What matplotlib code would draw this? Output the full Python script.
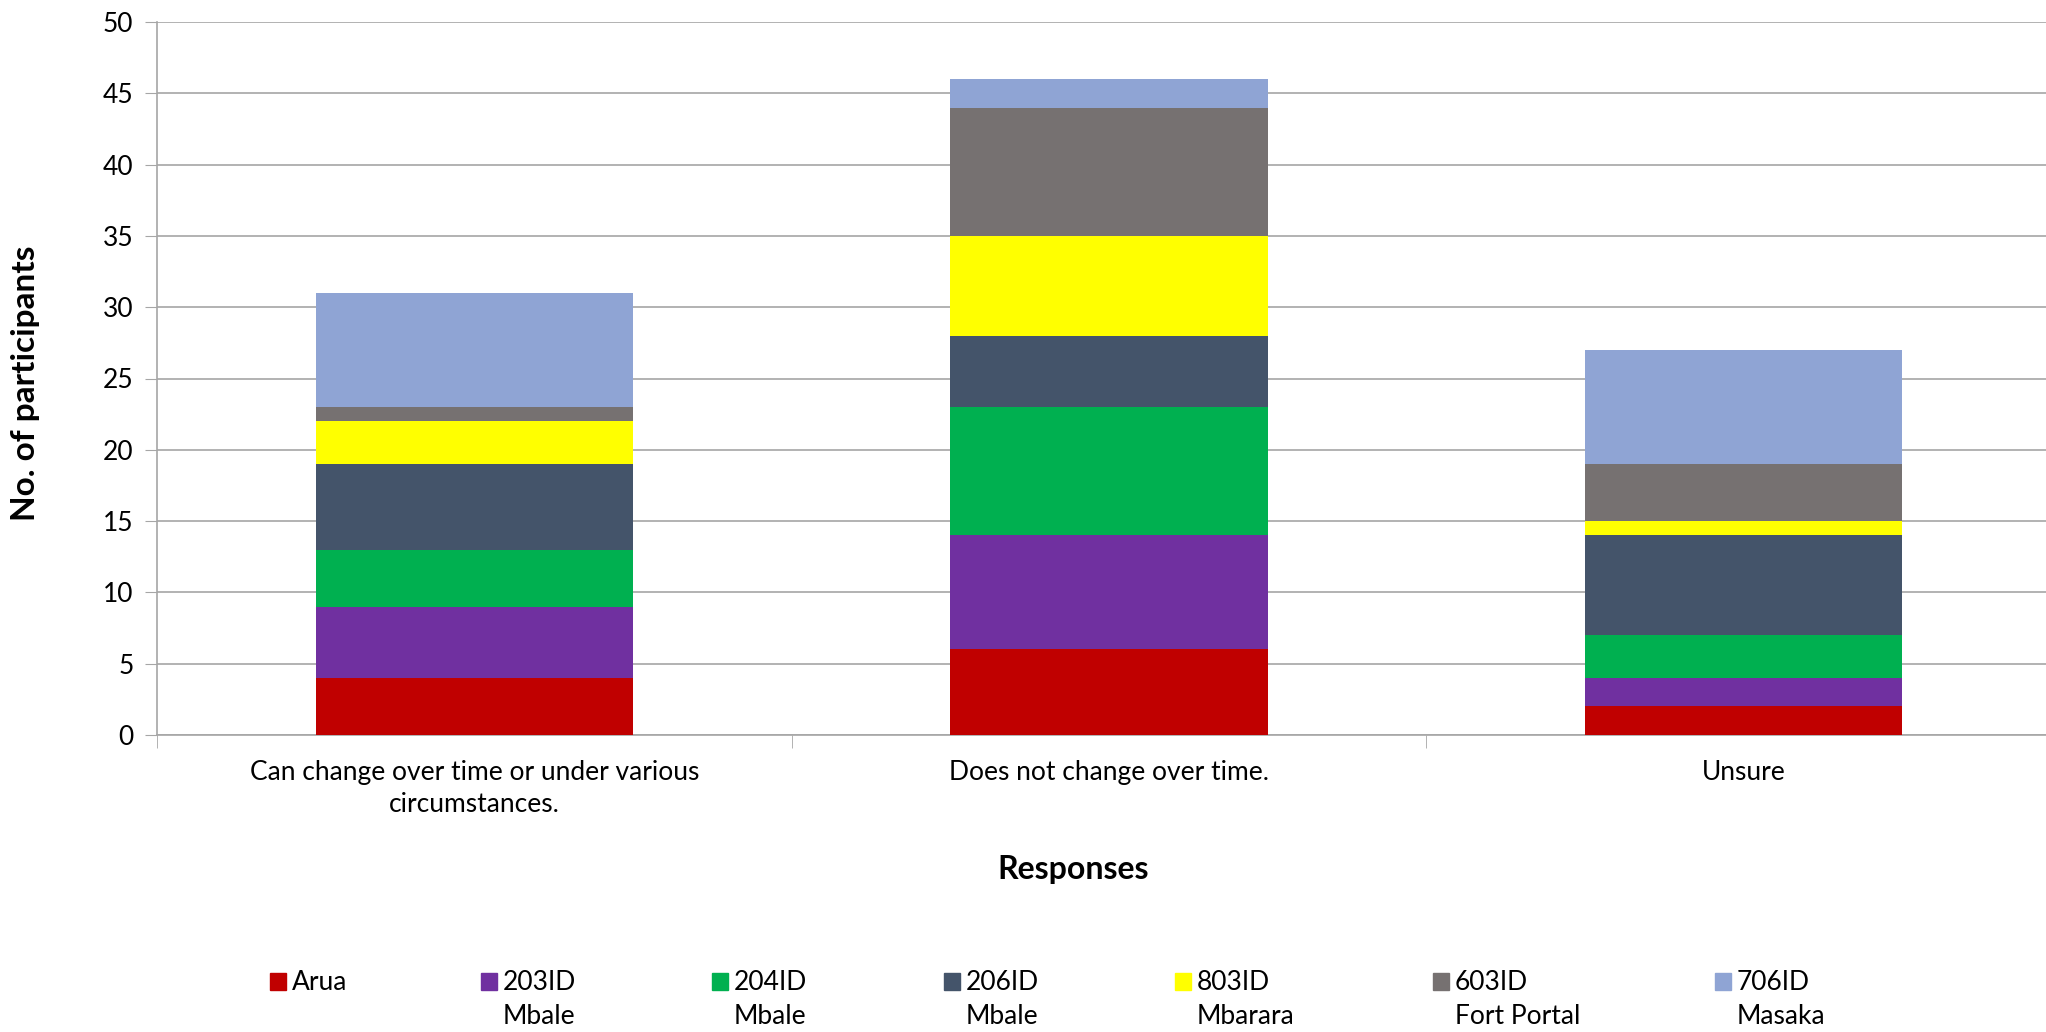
import matplotlib.pyplot as plt
from matplotlib.patches import Rectangle
import numpy as np

categories = ['Can change over time or under various\ncircumstances.',
              'Does not change over time.', 'Unsure']
series_names = ['Arua', '203ID\nMbale', '204ID\nMbale', '206ID\nMbale',
                '803ID\nMbarara', '603ID\nFort Portal', '706ID\nMasaka']
arua = [4, 6, 2]
id203 = [5, 8, 2]
id204 = [4, 9, 3]
id206 = [6, 5, 7]
id803 = [3, 7, 1]
id603 = [1, 9, 4]
id706 = [8, 2, 8]
colors = ['#C00000', '#7030A0', '#00B050', '#44546A', '#FFFF00', '#767171', '#8FA4D4']

plt.rcParams['font.family'] = ['Lato', 'DejaVu Sans']

W, H = 2046, 1032
fig = plt.figure(figsize=(W / 100, H / 100), dpi=100)
# the plot area runs a little past the right edge of the picture, as in the original
ax = fig.add_axes([157 / W, 1 - 735 / H, (2061 - 157) / W, (735 - 22) / H])

x = np.arange(len(categories))
bottom = np.zeros(len(categories))
for name, vals, c in zip(series_names,
                         [arua, id203, id204, id206, id803, id603, id706], colors):
    ax.bar(x, vals, 0.5, bottom=bottom, color=c, label=name, zorder=3)
    bottom += np.array(vals)

ax.set_xlim(-0.5, 2.5)
ax.set_ylim(0, 50)
ax.set_yticks(range(0, 51, 5))
ax.yaxis.grid(True, color='#A6A6A6', linewidth=1.2, zorder=0)
ax.set_xticks(x)
ax.set_xticklabels(categories, fontsize=19, linespacing=1.35)
ax.tick_params(axis='x', length=0, pad=18)
ax.set_xticks([-0.5, 0.5, 1.5, 2.5], minor=True)
ax.tick_params(axis='x', which='minor', length=9, color='#A6A6A6')
ax.tick_params(axis='y', labelsize=19, length=9, color='#A6A6A6', pad=8)
for s in ['top', 'right']:
    ax.spines[s].set_visible(False)
for s in ['left', 'bottom']:
    ax.spines[s].set_color('#A6A6A6')
    ax.spines[s].set_linewidth(1.2)

fig.text(26 / W, 1 - 383 / H, 'No. of participants', fontsize=24, fontweight='bold',
         rotation=90, ha='center', va='center')
fig.text(1073 / W, 1 - 870 / H, 'Responses', fontsize=23, fontweight='bold',
         ha='center', va='center')

# legend laid out like the original: swatch next to the first line of each label
leg_x = [270, 481, 712, 944, 1175, 1433, 1715]
for lx, name, c in zip(leg_x, series_names, colors):
    fig.patches.append(Rectangle((lx / W, 1 - 990 / H), 16 / W, 17 / H,
                                 color=c, transform=fig.transFigure, figure=fig))
    lines = name.split('\n')
    fig.text((lx + 22) / W, 1 - 982 / H, lines[0], fontsize=19, ha='left', va='center')
    if len(lines) > 1:
        fig.text((lx + 22) / W, 1 - 1017 / H, lines[1], fontsize=19, ha='left', va='center')

fig.savefig('out.png')
